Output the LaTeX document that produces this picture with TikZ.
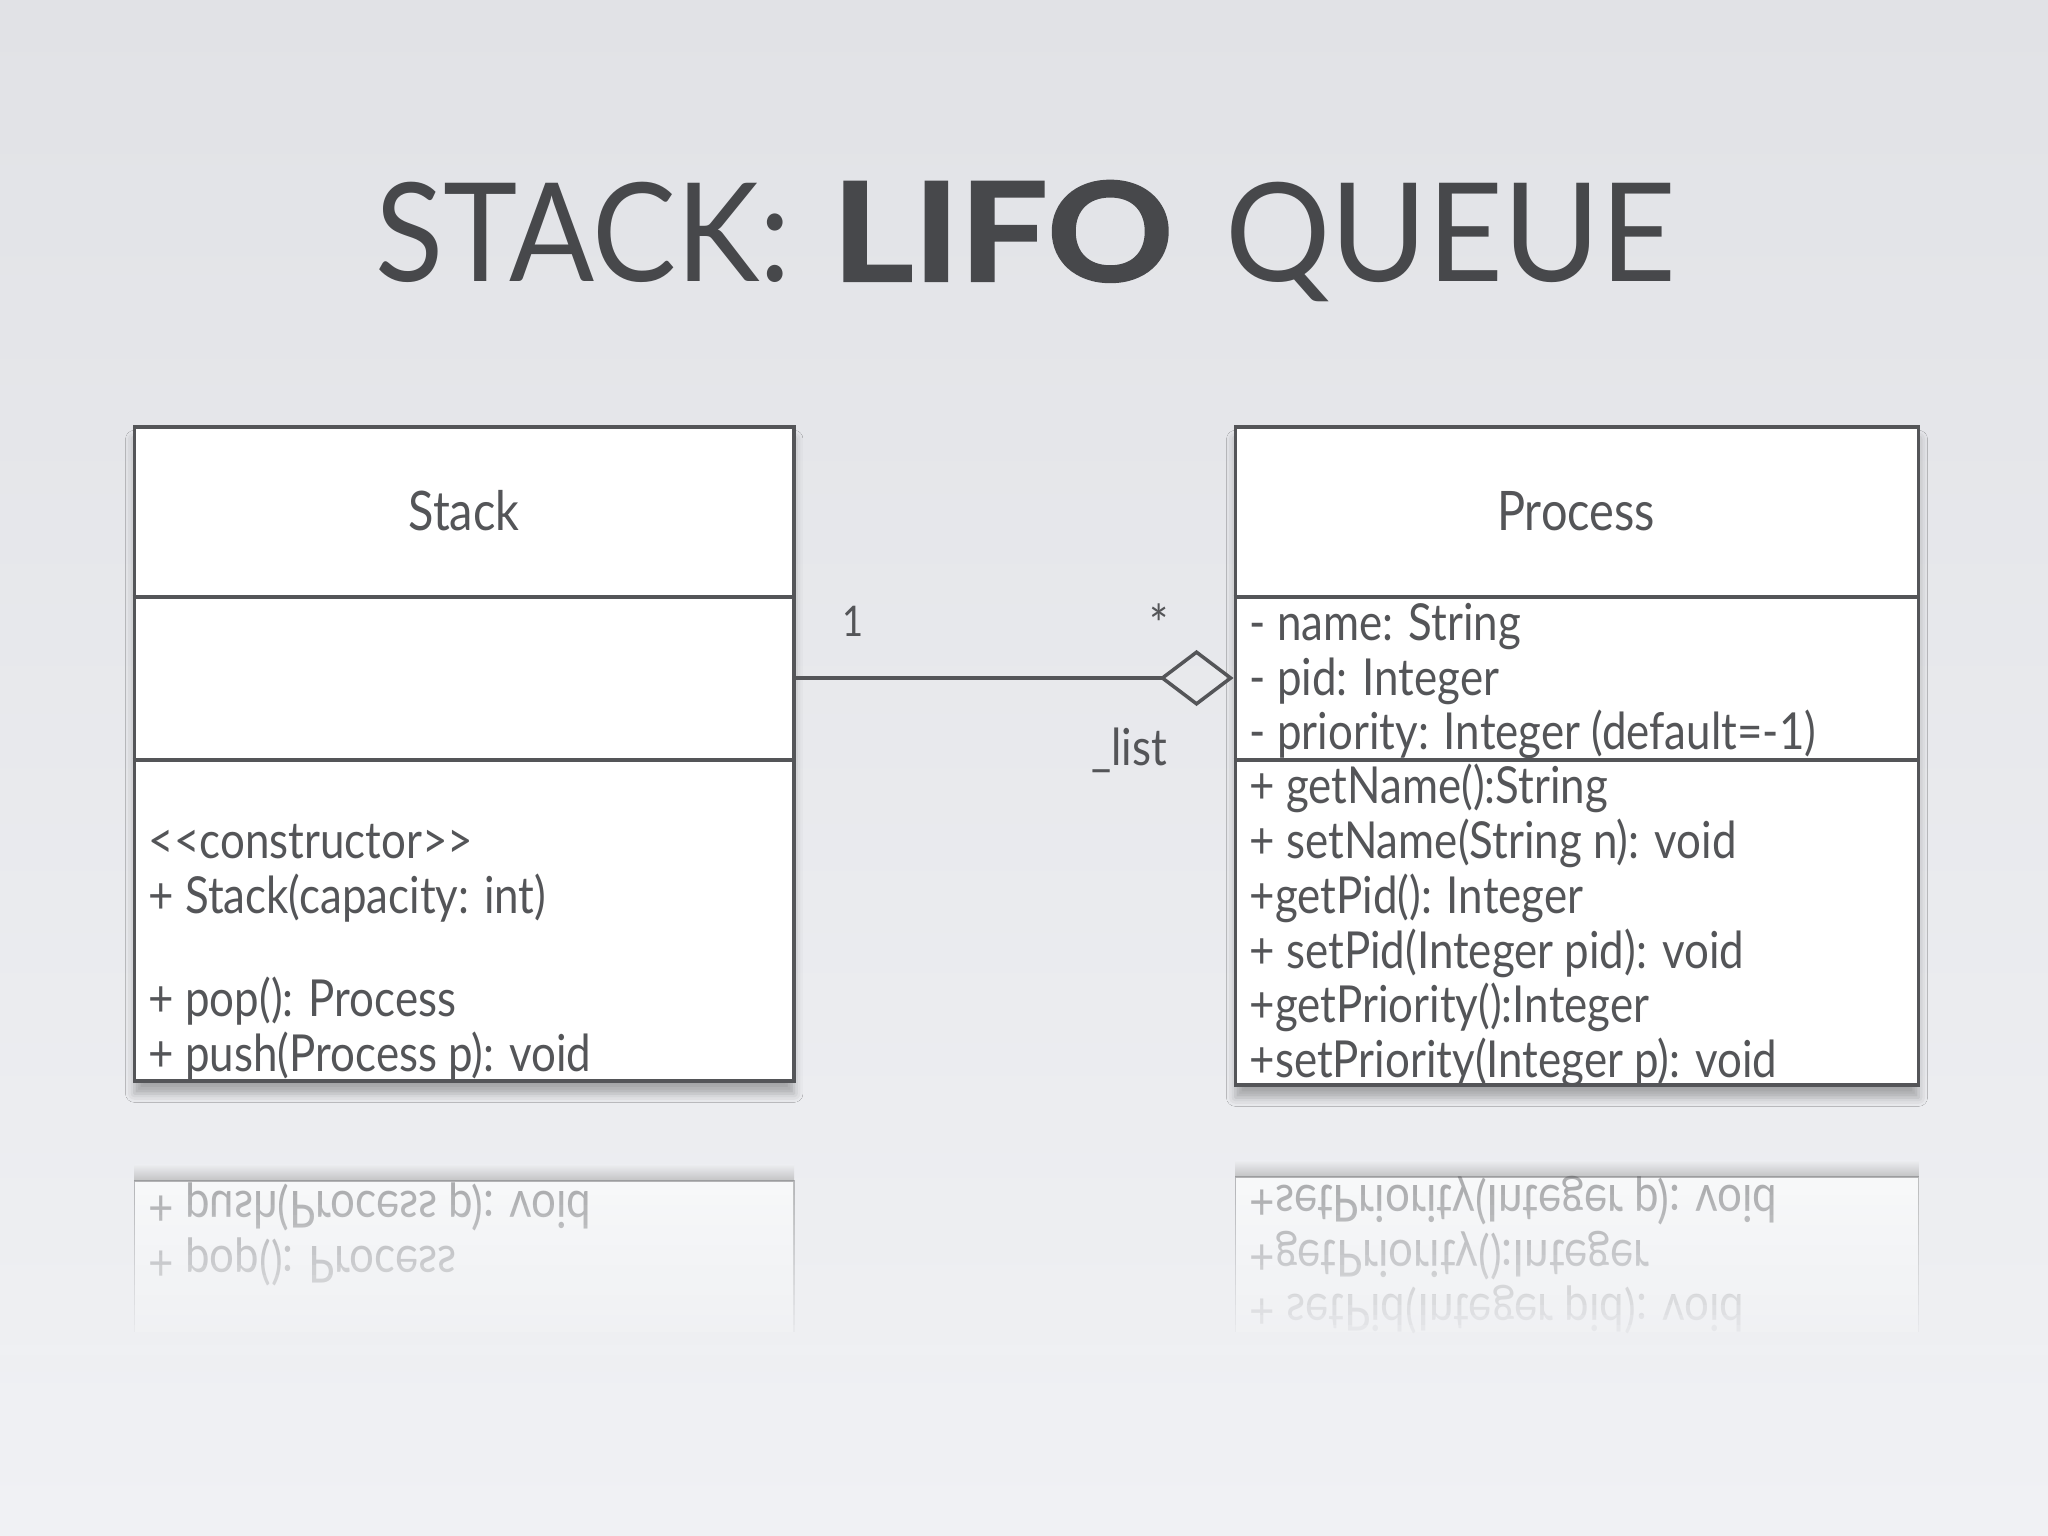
\documentclass[tikz,border=0pt]{standalone}
\usepackage{fontspec}
\setmainfont{Lato}[FakeStretch=0.86]
\newfontfamily\titlefont{Lato}
\usetikzlibrary{positioning,arrows.meta,shadows.blur}
\definecolor{ink}{RGB}{84,85,88}
\definecolor{bgtop}{RGB}{225,226,230}
\definecolor{bgmid}{RGB}{236,237,241}
\definecolor{bglow}{RGB}{240,241,244}
\definecolor{bgfade}{RGB}{239,240,243}
\tikzset{
umlclass/.style = {draw=ink, fill=white, line width=1pt, rectangle, inner sep=0pt, blur shadow={shadow xshift=0pt, shadow yshift=-3.5pt, shadow blur radius=2.5pt, shadow opacity=30}},
member/.style = {text=ink, inner sep=0pt, anchor=base west, font=\fontsize{14.5pt}{16pt}\selectfont},
classname/.style = {text=ink, inner sep=0pt, font=\fontsize{15.5pt}{17pt}\selectfont},
mult/.style = {text=ink, inner sep=0pt, font=\fontsize{12pt}{14pt}\selectfont},
mirrored/.style = {member, transform shape, text opacity=0.45}
}

\begin{document}
\begin{tikzpicture}[x=0.01cm, y=-0.01cm]
    \shade[top color=bgtop, middle color=bgmid, bottom color=bglow] (0,0) rectangle (2048,1536);
    \useasboundingbox (0,0) rectangle (2048,1536);

    % title
    \node[text=ink!85!black, inner sep=0pt, anchor=base west] (title) at (375,281)
      {\titlefont\fontsize{39pt}{44pt}\selectfont
       \resizebox{4.15cm}{\height}{STACK:}\hspace{0.41cm}%
       \resizebox{3.41cm}{\height}{\bfseries\addfontfeatures{FakeBold=1.6}LIFO}\hspace{0.52cm}%
       \resizebox{4.51cm}{\height}{QUEUE}};

    % reflection under the classes
    \shade[top color=bgfade, bottom color=black!35, opacity=0.6] (134.5,1164) rectangle (794,1181);
    \shade[top color=bgfade, bottom color=black!35, opacity=0.6] (1235.5,1160) rectangle (1918.5,1177);
    \begin{scope}[shift={(0,2262)}, yscale=-1]
      \draw[ink, draw opacity=0.35, fill=white, fill opacity=0.6] (134.5,930) -- (134.5,1081) -- (794,1081) -- (794,930);
      \draw[ink, draw opacity=0.35, fill=white, fill opacity=0.6] (1235.5,930) -- (1235.5,1085) -- (1918.5,1085) -- (1918.5,930);
      \node[mirrored] (rpop) at (148,1016) {+ pop(): Process};
      \node[mirrored] (rpush) at (148,1071) {+ push(Process p): void};
      \node[mirrored] (rsetpid) at (1249,968) {+ setPid(Integer pid): void};
      \node[mirrored] (rgetprio) at (1249,1022) {+getPriority():Integer};
      \node[mirrored] (rsetprio) at (1249,1077) {+setPriority(Integer p): void};
    \end{scope}
    \foreach \i [evaluate=\i as \op using \i/16] in {0,...,16}
      \fill[bgfade, opacity=\op] (0,1185+\i*10) rectangle (2048,1195+\i*10);

    % classes
    \node[umlclass, minimum width=6.595cm, minimum height=6.54cm] (stack) at (464.25,754) {};
    \node[umlclass, minimum width=6.83cm, minimum height=6.58cm] (process) at (1577,756) {};
    \draw[ink, line width=1pt] (stack.west |- 0,597) -- (stack.east |- 0,597);
    \draw[ink, line width=1pt] (stack.west |- 0,760) -- (stack.east |- 0,760);
    \draw[ink, line width=1pt] (process.west |- 0,597) -- (process.east |- 0,597);
    \draw[ink, line width=1pt] (process.west |- 0,760) -- (process.east |- 0,760);

    \node[classname] (stackname) at (464,511) {Stack};
    \node[classname] (processname) at (1576,511) {Process};

    \foreach \y/\t [count=\i] in {858/{<\kern0pt<constructor>\kern0pt>}, 913/{+ Stack(capacity: int)},
        1016/{+ pop(): Process}, 1071/{+ push(Process p): void}}
      \node[member] (stackop\i) at (148,\y) {\t};

    \foreach \y/\t [count=\i] in {640/{- name: String}, 695/{- pid: Integer}, 749/{- priority: Integer (default=-1)}}
      \node[member] (attr\i) at (1249,\y) {\t};

    \foreach \y/\t [count=\i] in {803/{+ getName():String}, 858/{+ setName(String n): void}, 913/{+getPid(): Integer},
        968/{+ setPid(Integer pid): void}, 1022/{+getPriority():Integer}, 1077/{+setPriority(Integer p): void}}
      \node[member] (procop\i) at (1249,\y) {\t};

    % aggregation
    \coordinate (link) at (1000,678);
    \draw[ink, line width=1pt, -{Diamond[open, length=0.74cm, width=0.56cm]}] (stack.east |- link) -- (process.west |- link);
    \node[mult] (one) at (853,621) {1};
    \node[mult, font=\fontsize{15pt}{17pt}\selectfont] (many) at (1159,624) {*};
    \node[member, anchor=base] (role) at (1129,765) {\_list};
\end{tikzpicture}
\end{document}
